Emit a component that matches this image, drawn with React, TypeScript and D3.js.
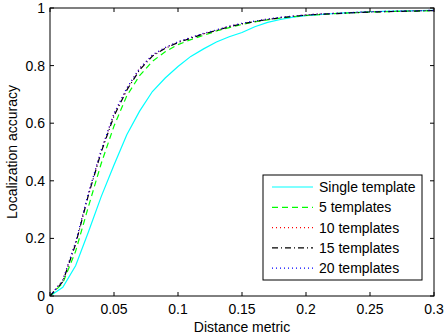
import React from "react";
import * as d3 from "d3";

const distances = [0, 0.01, 0.02, 0.03, 0.04, 0.05, 0.06, 0.07, 0.08, 0.09, 0.1, 0.11, 0.12, 0.13, 0.14, 0.15, 0.16, 0.17, 0.18, 0.19, 0.2, 0.21, 0.22, 0.23, 0.24, 0.25, 0.26, 0.27, 0.28, 0.29, 0.3];

const single = [0, 0.03, 0.105, 0.222, 0.345, 0.455, 0.56, 0.642, 0.71, 0.757, 0.797, 0.832, 0.858, 0.882, 0.9, 0.915, 0.935, 0.95, 0.96, 0.968, 0.973, 0.977, 0.98, 0.983, 0.985, 0.987, 0.988, 0.989, 0.99, 0.991, 0.992];
const five = [0, 0.045, 0.155, 0.31, 0.46, 0.59, 0.695, 0.765, 0.815, 0.848, 0.873, 0.89, 0.905, 0.92, 0.932, 0.943, 0.952, 0.959, 0.965, 0.97, 0.974, 0.977, 0.98, 0.982, 0.984, 0.986, 0.987, 0.988, 0.989, 0.99, 0.991];
const ten = [0, 0.055, 0.185, 0.355, 0.505, 0.632, 0.72, 0.79, 0.836, 0.862, 0.882, 0.897, 0.911, 0.923, 0.936, 0.946, 0.954, 0.961, 0.967, 0.972, 0.976, 0.979, 0.981, 0.983, 0.985, 0.987, 0.988, 0.989, 0.99, 0.991, 0.992];
const fifteen = [0, 0.05, 0.18, 0.35, 0.5, 0.625, 0.715, 0.785, 0.833, 0.86, 0.88, 0.895, 0.91, 0.922, 0.935, 0.945, 0.953, 0.96, 0.966, 0.971, 0.975, 0.978, 0.98, 0.982, 0.984, 0.986, 0.987, 0.988, 0.989, 0.99, 0.991];
const twenty = [0, 0.055, 0.187, 0.357, 0.507, 0.634, 0.722, 0.791, 0.837, 0.863, 0.883, 0.898, 0.912, 0.924, 0.937, 0.947, 0.955, 0.962, 0.968, 0.972, 0.976, 0.979, 0.981, 0.983, 0.985, 0.987, 0.988, 0.989, 0.99, 0.991, 0.992];

const seriesNames = ["Single template", "5 templates", "10 templates", "15 templates", "20 templates"];
const seriesValues = [single, five, ten, fifteen, twenty];
const seriesColors = ["#00ffff", "#00ff00", "#ff0000", "#000000", "#0000ff"];
const seriesDash = ["", "6,4", "1,3", "6,3,1,3", "1,3"];

const xTicks = [0, 0.05, 0.1, 0.15, 0.2, 0.25, 0.3];
const xTickLabels = ["0", "0.05", "0.1", "0.15", "0.2", "0.25", "0.3"];
const yTicks = [0, 0.2, 0.4, 0.6, 0.8, 1];
const yTickLabels = ["0", "0.2", "0.4", "0.6", "0.8", "1"];

export default function App() {
  const left = 50, right = 434, top = 8, bottom = 296;
  const x = d3.scaleLinear().domain([0, 0.3]).range([left, right]);
  const y = d3.scaleLinear().domain([0, 1]).range([bottom, top]);
  const line = d3.line<[number, number]>().x((d) => x(d[0])).y((d) => y(d[1]));
  const font = "'Liberation Sans', Arial, Helvetica, sans-serif";
  const tl = 4;
  const legX = 263, legY = 175, legW = 159, legH = 105;
  const rowY = (i: number) => 187 + i * 20.3;

  return (
    <div style={{ position: "fixed", left: 0, top: 0 }}>
      <svg width={444} height={335} style={{ display: "block", background: "#fff" }} fontFamily={font}>
        <rect x={0} y={0} width={444} height={335} fill="#fff" />
        <defs>
          <clipPath id="clip">
            <rect x={left} y={top - 2} width={right - left} height={bottom - top + 2} />
          </clipPath>
        </defs>
        <g clipPath="url(#clip)">
          {seriesValues.map((vals, i) => (
            <path
              key={i}
              d={line(distances.map((d, j) => [d, vals[j]] as [number, number])) || ""}
              fill="none"
              stroke={seriesColors[i]}
              strokeWidth={1.2}
              strokeDasharray={seriesDash[i] || undefined}
            />
          ))}
        </g>
        <rect x={left} y={top} width={right - left} height={bottom - top} fill="none" stroke="#000" strokeWidth={1} />
        {xTicks.map((t, i) => (
          <g key={"x" + i}>
            <line x1={x(t)} x2={x(t)} y1={bottom} y2={bottom - tl} stroke="#000" />
            <line x1={x(t)} x2={x(t)} y1={top} y2={top + tl} stroke="#000" />
            <text x={x(t)} y={314} fontSize={14} textAnchor="middle" fill="#000">
              {xTickLabels[i]}
            </text>
          </g>
        ))}
        {yTicks.map((t, i) => (
          <g key={"y" + i}>
            <line x1={left} x2={left + tl} y1={y(t)} y2={y(t)} stroke="#000" />
            <line x1={right} x2={right - tl} y1={y(t)} y2={y(t)} stroke="#000" />
            <text x={45} y={y(t) + 5} fontSize={14} textAnchor="end" fill="#000">
              {yTickLabels[i]}
            </text>
          </g>
        ))}
        <text x={(left + right) / 2} y={332} fontSize={14} textAnchor="middle" fill="#000">
          Distance metric
        </text>
        <text
          transform={`translate(17,${(top + bottom) / 2}) rotate(-90)`}
          fontSize={14}
          textAnchor="middle"
          fill="#000"
        >
          Localization accuracy
        </text>
        <rect x={legX} y={legY} width={legW} height={legH} fill="#fff" stroke="#000" strokeWidth={1} />
        {seriesNames.map((n, i) => (
          <g key={"l" + i}>
            <line
              x1={272}
              x2={313}
              y1={rowY(i)}
              y2={rowY(i)}
              stroke={seriesColors[i]}
              strokeWidth={1.2}
              strokeDasharray={seriesDash[i] || undefined}
            />
            <text x={319} y={rowY(i) + 5} fontSize={14} fill="#000">
              {n}
            </text>
          </g>
        ))}
      </svg>
    </div>
  );
}
